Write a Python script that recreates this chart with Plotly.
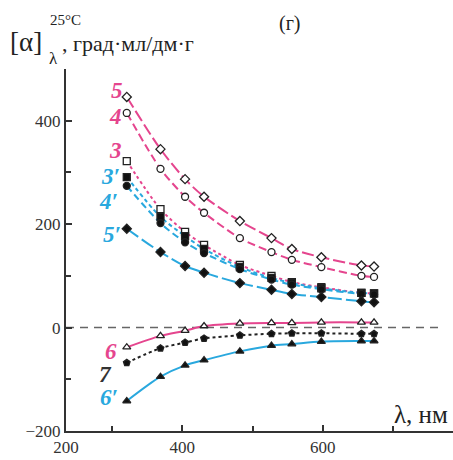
import plotly.graph_objects as go

# wavelengths, nm
wl = [321, 369, 404, 431, 482, 527, 556, 598, 655, 673]

c5 = [446, 345, 287, 253, 206, 173, 152, 136, 120, 118]
c4 = [415, 307, 253, 222, 173, 146, 131, 117, 100, 98]
c3 = [322, 229, 185, 160, 121, 100, 88, 78, 67, 66]
c3p = [291, 214, 177, 152, 117, 96, 86, 76, 67, 66]
c4p = [274, 202, 165, 144, 113, 93, 83, 74, 65, 64]
c5p = [191, 146, 119, 106, 86, 73, 65, 59, 51, 49]
c6 = [-38, -16, -6, 3, 8, 9, 9, 10, 10, 10]
c7 = [-68, -40, -29, -21, -15, -12, -11, -11, -12, -12]
c6p = [-142, -95, -73, -63, -46, -35, -32, -27, -26, -26]

x_ticks = [234.5, 400, 600]
x_ticktext = ["200", "400", "600"]
y_ticks = [-200, 0, 200, 400]

PINK = "#e5458e"
CYAN = "#29a8de"
DARK = "#333333"
SERIF = "Liberation Serif, 'DejaVu Serif', 'Times New Roman', serif"

series = [
    ("5", c5, PINK, "12px,4px", "diamond-open"),
    ("4", c4, PINK, "8px,4px", "circle-open"),
    ("3", c3, PINK, "3px,3px", "square-open"),
    ("3'", c3p, CYAN, "4px,3px", "square"),
    ("4'", c4p, CYAN, "7px,4px", "circle"),
    ("5'", c5p, CYAN, "14px,4px", "diamond"),
    ("6", c6, PINK, "solid", "triangle-up-open"),
    ("7", c7, "#222222", "3px,3px", "pentagon"),
    ("6'", c6p, CYAN, "solid", "triangle-up"),
]

fig = go.Figure()
for name, ys, col, dash, sym in series:
    fig.add_trace(go.Scatter(x=wl, y=ys, mode="lines",
                             line=dict(color=col, width=2, dash=dash,
                                       shape="spline", smoothing=0.8),
                             showlegend=False, hoverinfo="skip"))
for name, ys, col, dash, sym in series:
    is_open = sym.endswith("-open")
    base = sym.replace("-open", "")
    fig.add_trace(go.Scatter(
        x=wl, y=ys, mode="markers", showlegend=False,
        marker=dict(symbol=base, size=7,
                    color="white" if is_open else "#111111",
                    line=dict(color="#222222", width=1.3))))

fig.add_shape(type="line", xref="x", yref="y", x0=234.5, x1=768, y0=0, y1=0,
              line=dict(color="#666666", width=1.5, dash="8px,6px"), layer="below")

labels = [
    ("5", 307, 459, PINK), ("4", 305, 409, PINK), ("3", 305, 342, PINK),
    ("3′", 298, 293, CYAN), ("4′", 295, 243, CYAN), ("5′", 300, 180, CYAN),
    ("6", 298, -46, PINK), ("7", 291, -91, DARK), ("6′", 295, -136, CYAN),
]
for t, x, y, col in labels:
    fig.add_annotation(x=x, y=y, xref="x", yref="y", text="<b><i>%s</i></b>" % t,
                       showarrow=False, font=dict(family=SERIF, size=23, color=col))

L, W, T, H = 66, 387, 69, 362
def px(p):
    return (p - L) / W
def py(p):
    return (T + H - p) / H

ann = [
    ("[α]", 9, 42, 27, "left"),
    ("25°C", 49, 20, 15, "left"),
    ("λ", 48, 58, 17, "left"),
    (", град·мл/дм·г", 61, 43, 22, "left"),
    ("(г)", 290, 24, 20, "center"),
    ("λ, нм", 449, 414, 25, "right"),
]
for t, x, y, s, xa in ann:
    fig.add_annotation(x=px(x), y=py(y), xref="paper", yref="paper", text=t,
                       showarrow=False, xanchor=xa, yanchor="middle",
                       borderpad=0,
                       font=dict(family=SERIF, size=s, color="#222222"))

fig.update_layout(
    width=453, height=460, margin=dict(l=L, r=0, t=T, b=460 - T - H),
    paper_bgcolor="white", plot_bgcolor="white",
    font=dict(family=SERIF, size=17, color=DARK),
)
fig.update_xaxes(range=[234.5, 785.4], showgrid=False, zeroline=False,
                 showline=True, linecolor=DARK, linewidth=2,
                 ticks="inside", ticklen=6, tickwidth=1.5, tickcolor=DARK,
                 tickmode="array", tickvals=x_ticks, ticktext=x_ticktext,
                 tickfont=dict(family=SERIF, size=17, color=DARK),
                 minor=dict(tickvals=[300, 500, 700], ticks="inside", ticklen=5,
                            tickwidth=1.5, tickcolor=DARK))
fig.update_yaxes(range=[-200, 500], showgrid=False, zeroline=False,
                 showline=True, linecolor=DARK, linewidth=2,
                 ticks="inside", ticklen=6, tickwidth=1.5, tickcolor=DARK,
                 tickmode="array", tickvals=y_ticks,
                 tickfont=dict(family=SERIF, size=17, color=DARK),
                 minor=dict(tickvals=[-100, 100, 300, 500], ticks="inside", ticklen=5,
                            tickwidth=1.5, tickcolor=DARK))

fig.write_html("out.html")
